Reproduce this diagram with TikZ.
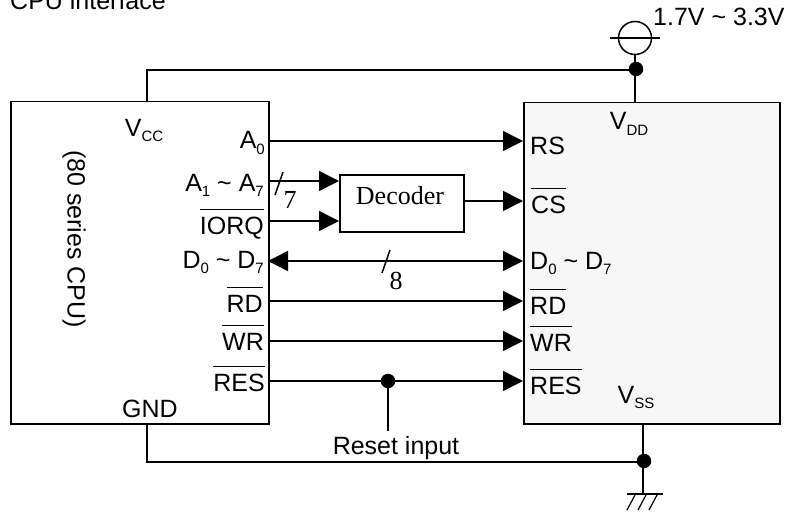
\documentclass[tikz,border=0pt]{standalone}
\usepackage{fontspec}
\setmainfont{Liberation Sans}
\newfontfamily\serifface{Liberation Serif}
\usetikzlibrary{arrows.meta}
\newcommand\subs[1]{\raisebox{-0.22em}{\fontsize{15}{15}\selectfont #1}}
\newcommand\ovl[1]{\leavevmode\vbox{\hrule height 1.5pt\kern 6.5pt\hbox{#1}}}
\tikzset{
  wire/.style={line width=1.5pt,draw=black},
  sig/.style={wire,-{Triangle[length=20pt,width=20pt]}},
  bisig/.style={wire,{Triangle[length=20pt,width=20pt]}-{Triangle[length=20pt,width=20pt]}},
  chip/.style={draw=black,line width=1.5pt,anchor=north west,inner sep=0pt},
  lbl/.style={font=\fontsize{25}{25}\selectfont,inner sep=0pt},
  lr/.style={lbl,anchor=base east},
  ll/.style={lbl,anchor=base west},
  dotnode/.style={circle,fill=black,draw=none,minimum size=14.5pt,inner sep=0pt},
  serif/.style={font=\fontsize{26}{26}\selectfont\serifface,inner sep=0pt}
}
\begin{document}
\begin{tikzpicture}[x=1pt,y=-1pt]
\useasboundingbox (0,0) rectangle (792,516);
\node[chip,minimum width=258pt,minimum height=322pt] (cpu) at (10,101) {};
\node[chip,fill=black!3,minimum width=256pt,minimum height=321pt] (lcd) at (523,102) {};
\node[draw=black,line width=1.5pt,minimum width=124pt,minimum height=57pt,inner sep=0pt,anchor=north west,fill=white] (dec) at (339,174) {};
\node[serif] (dect) at (400,196) {Decoder};
\node[lbl,anchor=base west] (title) at (10,10) {CPU interface};
\node[lbl,anchor=base west] (volt) at (653,26) {1.7V \textasciitilde{} 3.3V};
\node[lbl,rotate=-90] (series) at (74,239) {(80 series CPU)};
% left pin labels
\node[lbl,anchor=base] (vcc) at (144,136) {V\subs{CC}};
\node[lr] (a0) at (265,149) {A\subs{0}};
\node[lr] (a1) at (264,191) {A\subs{1} \textasciitilde{} A\subs{7}};
\node[lr] (iorq) at (264,234) {\ovl{IORQ}};
\node[lr] (d0) at (264,268) {D\subs{0} \textasciitilde{} D\subs{7}};
\node[lr] (rdl) at (263,312) {\ovl{RD}};
\node[lr] (wrl) at (264,350) {\ovl{WR}};
\node[lr] (resl) at (265,391) {\ovl{RES}};
\node[lbl,anchor=base] (gnd) at (150,417) {GND};
% right pin labels
\node[ll] (rs) at (530,154) {RS};
\node[ll] (cs) at (531,213) {\ovl{CS}};
\node[ll] (dr) at (530,269) {D\subs{0} \textasciitilde{} D\subs{7}};
\node[ll] (rdr) at (530,314) {\ovl{RD}};
\node[ll] (wrr) at (530,351) {\ovl{WR}};
\node[ll] (resr) at (530,394) {\ovl{RES}};
\node[lbl,anchor=base] (vdd) at (629,130) {V\subs{DD}};
\node[lbl,anchor=base] (vss) at (636,403) {V\subs{SS}};
\node[lbl,anchor=base] (reset) at (396,454) {Reset input};
\node[serif] (seven) at (290,200) {7};
\node[serif] (eight) at (396,281) {8};
% coordinates
\foreach \n/\y in {a/141,b/181,c/221,d/261,e/301,f/341,g/381}{
  \coordinate (L\n) at (268,\y);
  \coordinate (R\n) at (523,\y);
}
\coordinate (Dl1) at (339,181);
\coordinate (Dl2) at (339,221);
\coordinate (Dr) at (463,201);
\coordinate (Rcs) at (523,201);
\draw[sig] (La) -- (Ra);
\draw[sig] (Lb) -- (Dl1);
\draw[sig] (Lc) -- (Dl2);
\draw[sig] (Dr) -- (Rcs);
\draw[bisig] (Ld) -- (Rd);
\draw[sig] (Le) -- (Re);
\draw[sig] (Lf) -- (Rf);
\draw[sig] (Lg) -- (Rg);
% bus slashes
\coordinate (s7a) at (283,172); \coordinate (s7b) at (275,195);
\draw[wire] (s7a) -- (s7b);
\coordinate (s8a) at (390,250); \coordinate (s8b) at (382,273);
\draw[wire] (s8a) -- (s8b);
% reset
\node[dotnode] (rdot) at (388,381) {};
\draw[wire] (rdot) -- (388,431) coordinate (rend);
% power
\node[circle,draw=black,line width=1.5pt,minimum size=33pt,inner sep=0pt] (src) at (635,38) {};
\coordinate (sl) at (610,38); \coordinate (sr) at (660,38);
\draw[wire,line width=1.2pt] (sl) -- (sr);
\node[dotnode] (tdot) at (636,69) {};
\coordinate (lcdt) at (635,102);
\draw[wire] (src) -- (lcdt);
\coordinate (cput) at (147,101);
\coordinate (tj) at (636,70);
\draw[wire] (cput) |- (tj);
% ground
\coordinate (lcdb) at (643,423);
\coordinate (gt) at (643,494);
\draw[wire] (lcdb) -- (gt);
\node[dotnode] (bdot) at (644,461) {};
\coordinate (cpub) at (147,423);
\coordinate (bj) at (644,462);
\draw[wire] (cpub) |- (bj);
\coordinate (ga) at (627,494); \coordinate (gb) at (663,494);
\draw[wire,line width=1.2pt] (ga) -- (gb);
\draw[wire,line width=1.2pt] (635,495) -- (627,510) (646,495) -- (638,510) (657,495) -- (649,510);
\end{tikzpicture}
\end{document}
